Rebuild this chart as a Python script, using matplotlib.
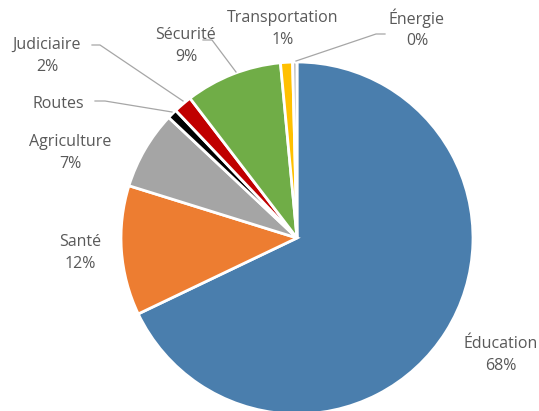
import matplotlib.pyplot as plt

categories = ["Éducation", "Santé", "Agriculture", "Routes", "Judiciaire",
              "Sécurité", "Transportation", "Énergie"]
values = [67.9, 11.9, 7.2, 0.9, 1.7, 8.9, 1.1, 0.4]
pct_labels = ["68%", "12%", "7%", "", "2%", "9%", "1%", "0%"]
colors = ["#4A7EAD", "#ED7D31", "#A5A5A5", "#000000", "#C00000",
          "#70AD47", "#FFC000", "#BFBFBF"]

# label anchor positions (pixel coords in the 539x411 picture)
label_px = [(501, 355), (80, 253), (70, 153), (58, 104), (47, 56),
            (186, 46), (283, 29), (417, 29)]
# leader lines: (text end, elbow, slice point) in pixels
leaders = {
    "Judiciaire": [(92, 45), (100, 45), (183, 101)],
    "Routes": [(95, 101), (105, 101), (172, 112)],
    "Sécurité": [(203, 40), (212, 40), (236, 72)],
    "Énergie": [(385, 34), (376, 34), (296, 61)],
}

cx, cy, r = 297, 238, 176
W, H = 539, 411


def to_data(px, py):
    return (px - cx) / r, (cy - py) / r


plt.rcParams['font.family'] = ['Open Sans', 'DejaVu Sans']
fig = plt.figure(figsize=(W / 100, H / 100), dpi=100)
ax = fig.add_axes([0, 0, 1, 1])
ax.pie(values, colors=colors, startangle=90, counterclock=False, radius=1,
       wedgeprops=dict(edgecolor="white", linewidth=2))
ax.set_xlim(-cx / r, (W - cx) / r)
ax.set_ylim(-(H - cy) / r, cy / r)
ax.set_aspect("auto")
ax.axis("off")

for name, pct, (px, py) in zip(categories, pct_labels, label_px):
    x, y = to_data(px, py)
    txt = name if pct == "" else name + "\n" + pct
    ax.text(x, y, txt, ha="center", va="center", fontsize=11.5,
            color="#595959", linespacing=1.45)

for name, pts in leaders.items():
    xs, ys = zip(*[to_data(px, py) for px, py in pts])
    ax.plot(xs, ys, color="#A6A6A6", linewidth=0.9)

fig.savefig("out.png", dpi=100)
